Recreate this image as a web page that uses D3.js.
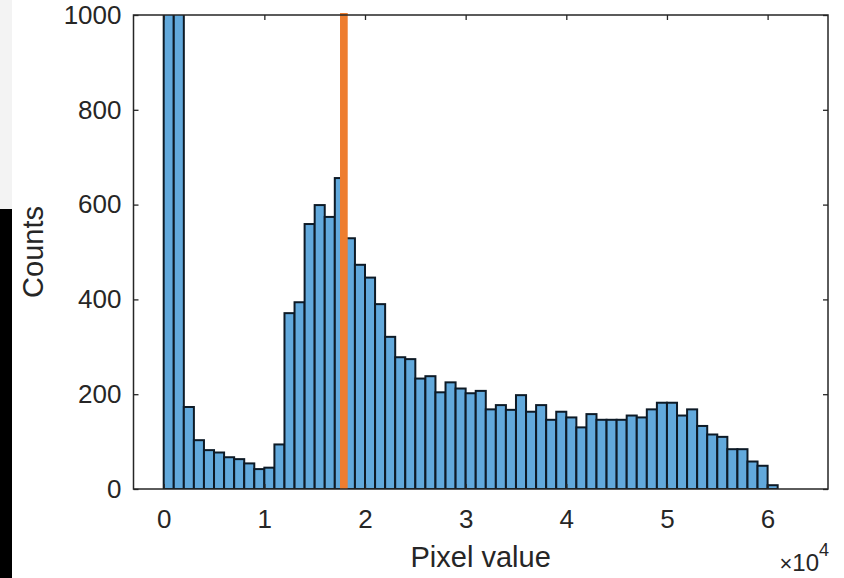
<!DOCTYPE html>
<html>
<head>
<meta charset="utf-8">
<script src="https://cdn.jsdelivr.net/npm/d3@7"></script>
<style>
  body { margin: 0; background: #fff; }
  text { font-family: "Liberation Sans", Arial, sans-serif; fill: #262626; }
</style>
</head>
<body>
<script>
// data
//=======================
var binStart = 0;
var binWidth = 1000;
// first two bins run off the top of the axes (clipped at 1000)
var counts = [3000, 3000, 173, 103, 82, 77, 67, 63, 54, 42, 45, 94, 371, 394, 559, 599, 574, 656,
  529, 473, 446, 390, 321, 278, 274, 233, 238, 204, 225, 212, 202, 207, 168, 177, 167, 198,
  163, 177, 146, 163, 151, 130, 158, 146, 146, 146, 155, 151, 168, 182, 182, 155, 168, 133,
  115, 110, 84, 84, 58, 49, 8];
var xTicks = [0, 10000, 20000, 30000, 40000, 50000, 60000];
var yTicks = [0, 200, 400, 600, 800, 1000];
var xLimits = [-3000, 66000];
var yLimits = [0, 1000];
var markerValue = 17900;   // orange vertical line

// step 1: svg area
var svgWidth = 844;
var svgHeight = 578;
var margin = { top: 15, right: 16, bottom: 89, left: 133.5 };
var width = svgWidth - margin.left - margin.right;
var height = svgHeight - margin.top - margin.bottom;

var svg = d3.select("body")
  .append("svg")
  .attr("width", svgWidth)
  .attr("height", svgHeight);

// strips on the left edge of the screenshot
svg.append("rect").attr("x", 0).attr("y", 0).attr("width", 12).attr("height", 209).attr("fill", "#f3f3f3");
svg.append("rect").attr("x", 0).attr("y", 209).attr("width", 12).attr("height", svgHeight - 209).attr("fill", "#000");

var chartGroup = svg.append("g")
  .attr("transform", `translate(${margin.left}, ${margin.top})`);

// step 2: scales
var xScale = d3.scaleLinear().domain(xLimits).range([0, width]);
var yScale = d3.scaleLinear().domain(yLimits).range([height, 0]);

chartGroup.append("clipPath").attr("id", "plotClip")
  .append("rect").attr("width", width).attr("height", height);

// step 3: bars
chartGroup.append("g")
  .attr("clip-path", "url(#plotClip)")
  .selectAll("rect")
  .data(counts)
  .enter()
  .append("rect")
  .attr("x", (d, i) => xScale(binStart + i * binWidth))
  .attr("width", (d, i) => xScale(binStart + (i + 1) * binWidth) - xScale(binStart + i * binWidth))
  .attr("y", d => yScale(d))
  .attr("height", d => yScale(0) - yScale(d))
  .attr("fill", "#62a9dc")
  .attr("stroke", "#0d1a26")
  .attr("stroke-width", 2);

// step 4: orange marker
chartGroup.append("line")
  .attr("x1", xScale(markerValue)).attr("x2", xScale(markerValue))
  .attr("y1", yScale(0)).attr("y2", yScale(1000) - 2)
  .attr("stroke", "#ee7d2f")
  .attr("stroke-width", 7.7);

// step 5: axes (ticks point inward, mirrored on top/right)
var bottomAxis = d3.axisBottom(xScale).tickValues(xTicks).tickSize(-5).tickPadding(21)
  .tickFormat(d => d / 10000);
var leftAxis = d3.axisLeft(yScale).tickValues(yTicks).tickSize(-5).tickPadding(12)
  .tickFormat(d3.format("d"));
var topAxis = d3.axisTop(xScale).tickValues(xTicks).tickSize(-5).tickFormat("");
var rightAxis = d3.axisRight(yScale).tickValues(yTicks).tickSize(-5).tickFormat("");

chartGroup.append("g").attr("transform", `translate(0, ${height})`).call(bottomAxis);
chartGroup.append("g").call(leftAxis);
chartGroup.append("g").call(topAxis);
chartGroup.append("g").attr("transform", `translate(${width}, 0)`).call(rightAxis);

chartGroup.selectAll(".domain").remove();
chartGroup.selectAll(".tick line").attr("stroke", "#262626").attr("stroke-width", 1.3);
chartGroup.selectAll(".tick text").attr("font-size", 26).attr("fill", "#262626");

// box
chartGroup.append("rect")
  .attr("width", width).attr("height", height)
  .attr("fill", "none").attr("stroke", "#262626").attr("stroke-width", 1.5);

// step 6: labels
svg.append("text")
  .attr("x", margin.left + xScale(30000) + 15)
  .attr("y", 567)
  .attr("text-anchor", "middle")
  .attr("font-size", 29)
  .text("Pixel value");

svg.append("text")
  .attr("transform", `translate(43, ${margin.top + height / 2}) rotate(-90)`)
  .attr("text-anchor", "middle")
  .attr("font-size", 29)
  .text("Counts");

var expo = svg.append("text")
  .attr("x", 829)
  .attr("y", 571)
  .attr("text-anchor", "end")
  .attr("font-size", 24);
expo.append("tspan").attr("font-size", 22).text("\u00d7");
expo.append("tspan").text("10");
expo.append("tspan").attr("dy", -15).attr("font-size", 18).text("4");
</script>
</body>
</html>
